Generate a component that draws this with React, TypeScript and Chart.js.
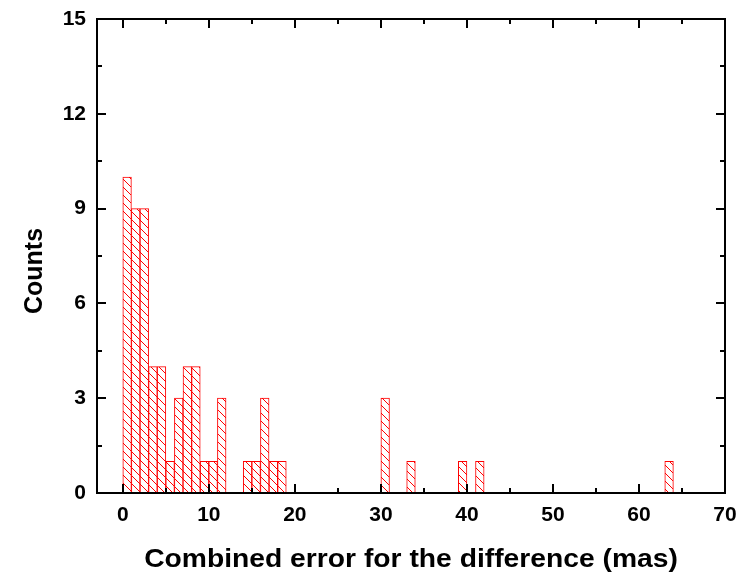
import React, { useEffect, useRef } from "react";
import { Chart, registerables } from "chart.js";

Chart.register(...registerables);

// Histogram bins (lower edge, width 1 mas) and counts
const binStarts = [0, 1, 2, 3, 4, 5, 6, 7, 8, 9, 10, 11, 14, 15, 16, 17, 18, 30, 33, 39, 41, 63];
const counts = [10, 9, 9, 4, 4, 1, 3, 4, 4, 1, 1, 3, 1, 1, 3, 1, 1, 3, 1, 1, 1, 1];
const binWidth = 1;

const xMajorTicks = [0, 10, 20, 30, 40, 50, 60, 70];
const xMinorTicks = [5, 15, 25, 35, 45, 55, 65];
const yMajorTicks = [0, 3, 6, 9, 12, 15];
const yMinorTicks = [1.5, 4.5, 7.5, 10.5, 13.5];

const xTitle = "Combined error for the difference (mas)";
const yTitle = "Counts";

const W = 749;
const H = 578;
const FONT = "'Liberation Sans', Arial, sans-serif";

function makeHatch(): CanvasPattern | string {
  const c = document.createElement("canvas");
  const s = 8;
  c.width = s;
  c.height = s;
  const ctx = c.getContext("2d");
  if (!ctx) return "rgba(255,0,0,0.3)";
  ctx.fillStyle = "#ffffff";
  ctx.fillRect(0, 0, s, s);
  ctx.strokeStyle = "#ff0000";
  ctx.lineWidth = 1;
  ctx.beginPath();
  ctx.moveTo(-1, -1);
  ctx.lineTo(s + 1, s + 1);
  ctx.moveTo(-1, s - 1);
  ctx.lineTo(1, s + 1);
  ctx.moveTo(s - 1, -1);
  ctx.lineTo(s + 1, 1);
  ctx.stroke();
  return ctx.createPattern(c, "repeat") || "rgba(255,0,0,0.3)";
}

const frameTicks = {
  id: "frameTicks",
  afterDraw(chart: any) {
    const { ctx, chartArea } = chart;
    const { left, right, top, bottom } = chartArea;
    const xs = chart.scales.x;
    const ys = chart.scales.y;
    const major = 9;
    const minor = 5;
    ctx.save();
    ctx.strokeStyle = "#000";
    ctx.lineWidth = 2;
    ctx.beginPath();
    const tickX = (v: number, len: number) => {
      const px = Math.round(xs.getPixelForValue(v));
      ctx.moveTo(px, bottom);
      ctx.lineTo(px, bottom - len);
      ctx.moveTo(px, top);
      ctx.lineTo(px, top + len);
    };
    const tickY = (v: number, len: number) => {
      const py = Math.round(ys.getPixelForValue(v));
      ctx.moveTo(left, py);
      ctx.lineTo(left + len, py);
      ctx.moveTo(right, py);
      ctx.lineTo(right - len, py);
    };
    xMajorTicks.forEach((v) => tickX(v, major));
    xMinorTicks.forEach((v) => tickX(v, minor));
    yMajorTicks.forEach((v) => tickY(v, major));
    yMinorTicks.forEach((v) => tickY(v, minor));
    ctx.stroke();
    ctx.strokeRect(left, top, right - left, bottom - top);

    // Axis titles
    ctx.fillStyle = "#000";
    ctx.font = `bold 25px ${FONT}`;
    ctx.textAlign = "center";
    ctx.textBaseline = "alphabetic";
    ctx.save();
    ctx.translate(411, 567);
    ctx.scale(1.13, 1);
    ctx.fillText(xTitle, 0, 0);
    ctx.restore();

    ctx.save();
    ctx.translate(42, 271);
    ctx.rotate(-Math.PI / 2);
    ctx.fillText(yTitle, 0, 0);
    ctx.restore();
    ctx.restore();
  },
};

export default function App() {
  const ref = useRef<HTMLCanvasElement | null>(null);

  useEffect(() => {
    document.body.style.margin = "0";
    const canvas = ref.current;
    if (!canvas) return;
    const hatch = makeHatch();
    const data = binStarts.map((b, i) => ({ x: b + binWidth / 2, y: counts[i] }));
    const chart = new Chart(canvas, {
      type: "bar",
      data: {
        datasets: [
          {
            data,
            backgroundColor: hatch as any,
            borderColor: "#ff0000",
            borderWidth: 1,
            borderSkipped: false,
            barPercentage: 1,
            categoryPercentage: 1,
          } as any,
        ],
      },
      options: {
        responsive: false,
        animation: false,
        devicePixelRatio: 1,
        layout: { padding: { top: 19, right: 24, left: 0, bottom: 0 } },
        plugins: { legend: { display: false }, tooltip: { enabled: false } },
        scales: {
          x: {
            type: "linear",
            min: -3,
            max: 70,
            offset: false,
            grid: { display: false, drawTicks: false, offset: false },
            border: { display: false },
            afterBuildTicks: (scale: any) => {
              scale.ticks = xMajorTicks.map((v) => ({ value: v }));
            },
            afterFit: (scale: any) => {
              scale.height = H - 493;
              scale.paddingLeft = 0;
              scale.paddingRight = 0;
              scale.paddingTop = 0;
              scale.paddingBottom = 0;
            },
            ticks: {
              color: "#000",
              padding: 10,
              maxRotation: 0,
              autoSkip: false,
              font: { family: FONT, size: 21, weight: "bold" },
            },
            title: { display: false },
          },
          y: {
            type: "linear",
            min: 0,
            max: 15,
            grid: { display: false, drawTicks: false },
            border: { display: false },
            afterBuildTicks: (scale: any) => {
              scale.ticks = yMajorTicks.map((v) => ({ value: v }));
            },
            afterFit: (scale: any) => {
              scale.width = 97;
              scale.paddingLeft = 0;
              scale.paddingRight = 0;
              scale.paddingTop = 0;
              scale.paddingBottom = 0;
            },
            ticks: {
              color: "#000",
              padding: 11,
              autoSkip: false,
              font: { family: FONT, size: 21, weight: "bold" },
            },
            title: { display: false },
          },
        },
      },
      plugins: [frameTicks],
    });
    return () => chart.destroy();
  }, []);

  return (
    <div style={{ width: W, height: H, background: "#fff" }}>
      <canvas ref={ref} width={W} height={H} style={{ display: "block" }} />
    </div>
  );
}
